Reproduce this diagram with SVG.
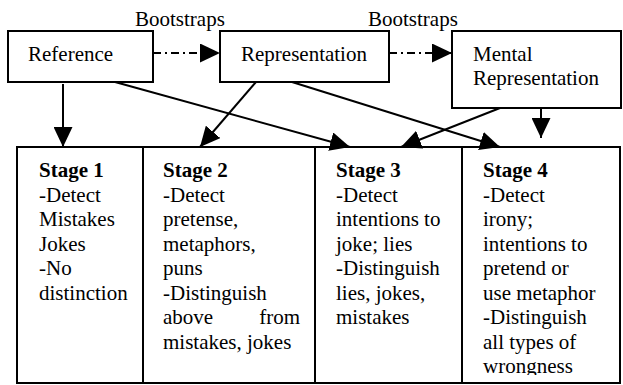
<svg xmlns="http://www.w3.org/2000/svg" width="623" height="385" viewBox="0 0 623 385">
<style>
  .box { fill: #fff; stroke: #000; stroke-width: 2; }
  .t { font-family: "Liberation Serif", "Times New Roman", serif; font-size: 21px; fill: #000; }
  .b { font-weight: bold; }
  .conn { stroke: #000; stroke-width: 2; fill: none; marker-end: url(#ah); }
  .dash { stroke-dasharray: 8 4 2 4; }
  .grid { stroke: #000; stroke-width: 2; fill: none; }
</style>
<defs>
  <marker id="ah" markerUnits="userSpaceOnUse" markerWidth="20" markerHeight="19" refX="20" refY="9.5" orient="auto" viewBox="0 0 20 19">
    <path d="M0,0 L20,9.5 L0,19 z" fill="#000"/>
  </marker>
  <clipPath id="cellclip"><rect x="17" y="147" width="603" height="228"/></clipPath>
</defs>

<text class="t" x="135" y="26">Bootstraps</text>
<text class="t" x="368" y="26">Bootstraps</text>

<g id="node-reference">
  <rect class="box" x="8" y="31" width="145" height="51"/>
  <text class="t" x="28" y="61">Reference</text>
</g>
<g id="node-representation">
  <rect class="box" x="220" y="31" width="169" height="51"/>
  <text class="t" x="241" y="61">Representation</text>
</g>
<g id="node-mental">
  <rect class="box" x="452" y="31" width="169" height="77"/>
  <text class="t" x="473" y="61">Mental</text>
  <text class="t" x="473" y="85">Representation</text>
</g>

<g id="node-stages">
  <rect class="grid" x="17" y="147" width="603" height="236"/>
  <line class="grid" x1="143" y1="147" x2="143" y2="383"/>
  <line class="grid" x1="315" y1="147" x2="315" y2="383"/>
  <line class="grid" x1="462" y1="147" x2="462" y2="383"/>
  <g clip-path="url(#cellclip)">
    <g id="stage1">
      <text class="t b" x="39" y="177">Stage 1</text>
      <text class="t" x="39" y="201.5">-Detect</text>
      <text class="t" x="39" y="226">Mistakes</text>
      <text class="t" x="39" y="250.5">Jokes</text>
      <text class="t" x="39" y="275">-No</text>
      <text class="t" x="39" y="299.5">distinction</text>
    </g>
    <g id="stage2">
      <text class="t b" x="163" y="177">Stage 2</text>
      <text class="t" x="163" y="201.5">-Detect</text>
      <text class="t" x="163" y="226">pretense,</text>
      <text class="t" x="163" y="250.5">metaphors,</text>
      <text class="t" x="163" y="275">puns</text>
      <text class="t" x="163" y="299.5">-Distinguish</text>
      <text class="t" x="163" y="324">above</text>
      <text class="t" x="300" y="324" text-anchor="end">from</text>
      <text class="t" x="163" y="348.5">mistakes, jokes</text>
    </g>
    <g id="stage3">
      <text class="t b" x="336" y="177">Stage 3</text>
      <text class="t" x="336" y="201.5">-Detect</text>
      <text class="t" x="336" y="226">intentions to</text>
      <text class="t" x="336" y="250.5">joke; lies</text>
      <text class="t" x="336" y="275">-Distinguish</text>
      <text class="t" x="336" y="299.5">lies, jokes,</text>
      <text class="t" x="336" y="324">mistakes</text>
    </g>
    <g id="stage4">
      <text class="t b" x="483" y="177">Stage 4</text>
      <text class="t" x="483" y="201.5">-Detect</text>
      <text class="t" x="483" y="226">irony;</text>
      <text class="t" x="483" y="250.5">intentions to</text>
      <text class="t" x="483" y="275">pretend or</text>
      <text class="t" x="483" y="299.5">use metaphor</text>
      <text class="t" x="483" y="324">-Distinguish</text>
      <text class="t" x="483" y="348.5">all types of</text>
      <text class="t" x="483" y="373">wrongness</text>
    </g>
  </g>
</g>

<g id="connectors">
  <line class="conn dash" x1="153" y1="53" x2="220" y2="53"/>
  <line class="conn dash" x1="389" y1="53" x2="452" y2="53"/>
  <line class="conn" x1="63" y1="84" x2="63" y2="147"/>
  <line class="conn" x1="256" y1="82" x2="200" y2="147"/>
  <line class="conn" x1="115" y1="82" x2="350" y2="147"/>
  <line class="conn" x1="292" y1="82" x2="500" y2="147"/>
  <line class="conn" x1="500" y1="108" x2="401" y2="147"/>
  <line class="conn" x1="541" y1="108" x2="541" y2="138"/>
</g>
</svg>
